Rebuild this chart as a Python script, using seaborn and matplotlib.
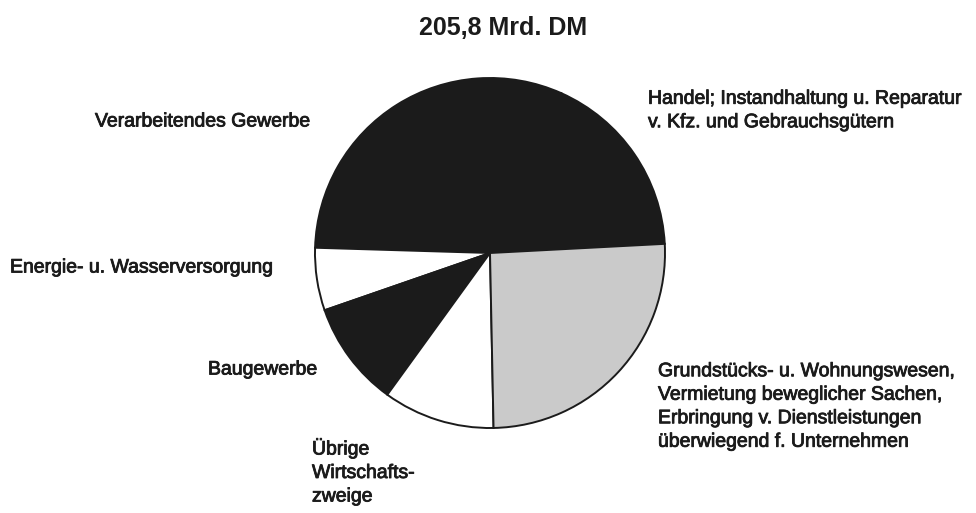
import matplotlib
matplotlib.use("Agg")
import matplotlib.pyplot as plt
import matplotlib.patheffects as pe
import seaborn as sns

# Anteile in Mrd. DM (aus dem Bild geschaetzt), Summe 205,8
sectors = ["Handel", "Verarbeitendes Gewerbe", "Energie", "Baugewerbe",
           "Uebrige", "Grundstuecke"]
values = [36.0, 64.2, 11.9, 20.0, 21.2, 52.5]
colors = ["#1b1b1b", "#1b1b1b", "#ffffff", "#1b1b1b", "#ffffff", "#cacaca"]

sns.set_style("white")
plt.rcParams['font.family'] = ['Liberation Sans', 'DejaVu Sans']

fig = plt.figure(figsize=(9.76, 5.13), dpi=100)
ax = fig.add_axes([0, 0, 1, 1])
ax.pie(values, colors=colors, startangle=3, counterclock=True,
       center=(490, 513 - 253), radius=175,
       wedgeprops=dict(edgecolor="#1b1b1b", linewidth=1.4))
ax.set_xlim(0, 976)
ax.set_ylim(0, 513)
ax.set_aspect('equal')
ax.axis('off')

H = 513
fs = 14
ls = 1.5
# etwas kraeftigere Schrift wie im Scan
thick = [pe.withStroke(linewidth=0.6, foreground='#1b1b1b')]
kw = dict(fontsize=fs, color='#1b1b1b', path_effects=thick)

ax.text(503, H - 28, "205,8 Mrd. DM", ha='center', va='center',
        fontsize=18, fontweight='bold', color='#1b1b1b')
ax.text(95, H - 122, "Verarbeitendes Gewerbe", ha='left', va='center', **kw)
ax.text(648, H - 111, "Handel; Instandhaltung u. Reparatur\nv. Kfz. und Gebrauchsgütern",
        ha='left', va='center', linespacing=ls, **kw)
ax.text(10, H - 268, "Energie- u. Wasserversorgung", ha='left', va='center', **kw)
ax.text(208, H - 370, "Baugewerbe", ha='left', va='center', **kw)
ax.text(312, H - 472, "Übrige\nWirtschafts-\nzweige", ha='left', va='center',
        linespacing=ls, **kw)
ax.text(658, H - 407, "Grundstücks- u. Wohnungswesen,\nVermietung beweglicher Sachen,\n"
        "Erbringung v. Dienstleistungen\nüberwiegend f. Unternehmen",
        ha='left', va='center', linespacing=ls, **kw)

fig.savefig("out.png", dpi=100)
